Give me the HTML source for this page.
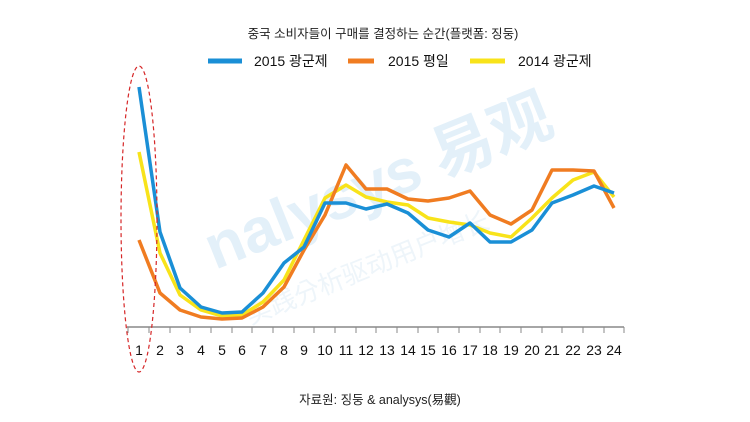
<!DOCTYPE html>
<html><head><meta charset="utf-8"><style>
html,body{margin:0;padding:0;background:#fff;}
svg{display:block;}
text{font-family:"Liberation Sans","Noto Sans CJK KR",sans-serif;}
</style></head><body>
<svg width="750" height="422" viewBox="0 0 750 422">
<text x="383" y="38" font-size="12.5" text-anchor="middle" fill="#222">중국 소비자들이 구매를 결정하는 순간(플랫폼: 징둥)</text>
<line x1="208" y1="61" x2="242" y2="61" stroke="#1a8fd6" stroke-width="5"/>
<text x="254" y="66" font-size="14" fill="#111">2015 광군제</text>
<line x1="348" y1="61" x2="374" y2="61" stroke="#f07c21" stroke-width="5"/>
<text x="388" y="66" font-size="14" fill="#111">2015 평일</text>
<line x1="470" y1="61" x2="505" y2="61" stroke="#f8e31a" stroke-width="5"/>
<text x="518" y="66" font-size="14" fill="#111">2014 광군제</text>
<text x="215" y="270" font-size="62" fill="#e3f0f9" transform="rotate(-22 215 270)" font-weight="bold">nalysys 易观</text>
<text x="250" y="325" font-size="26" fill="#eef5fa" transform="rotate(-22 250 325)">实践分析驱动用户增长</text>
<line x1="127" y1="327" x2="624" y2="327" stroke="#888" stroke-width="1.5"/>
<polyline fill="none" stroke="#f8e31a" stroke-width="3.5" stroke-linejoin="round" points="139,152 160,253 180,295 201,310 222,316 242,315 263,302 284,280 304,240 325,198 346,185 366,197 387,202 408,205 428,218 449,222 470,225 490,233 511,237 532,218 552,198 573,180 594,172 614,197"/>
<polyline fill="none" stroke="#f07c21" stroke-width="3.5" stroke-linejoin="round" points="139,240 160,293 180,310 201,317 222,319 242,318 263,307 284,287 304,250 325,215 346,165 366,189 387,189 408,199 428,201 449,198 470,191 490,215 511,224 532,210 552,170 573,170 594,171 614,208"/>
<polyline fill="none" stroke="#1a8fd6" stroke-width="3.5" stroke-linejoin="round" points="139,87 160,232 180,288 201,307 222,313 242,312 263,293 284,263 304,247 325,203 346,203 366,209 387,204 408,213 428,230 449,237 470,223 490,242 511,242 532,230 552,203 573,195 594,186 614,193"/>
<ellipse cx="139" cy="219" rx="18" ry="153" fill="none" stroke="#d62728" stroke-width="1.2" stroke-dasharray="4,3"/>
<g font-size="14" fill="#111" text-anchor="middle">
<text x="139" y="355">1</text><text x="160" y="355">2</text><text x="180" y="355">3</text><text x="201" y="355">4</text><text x="222" y="355">5</text><text x="242" y="355">6</text><text x="263" y="355">7</text><text x="284" y="355">8</text><text x="304" y="355">9</text><text x="325" y="355">10</text><text x="346" y="355">11</text><text x="366" y="355">12</text><text x="387" y="355">13</text><text x="408" y="355">14</text><text x="428" y="355">15</text><text x="449" y="355">16</text><text x="470" y="355">17</text><text x="490" y="355">18</text><text x="511" y="355">19</text><text x="532" y="355">20</text><text x="552" y="355">21</text><text x="573" y="355">22</text><text x="594" y="355">23</text><text x="614" y="355">24</text>
</g>
<g stroke="#888" stroke-width="1">
<line x1="128" y1="327" x2="128" y2="333"/><line x1="149" y1="327" x2="149" y2="333"/><line x1="170" y1="327" x2="170" y2="333"/><line x1="190" y1="327" x2="190" y2="333"/><line x1="211" y1="327" x2="211" y2="333"/><line x1="232" y1="327" x2="232" y2="333"/><line x1="252" y1="327" x2="252" y2="333"/><line x1="273" y1="327" x2="273" y2="333"/><line x1="294" y1="327" x2="294" y2="333"/><line x1="314" y1="327" x2="314" y2="333"/><line x1="335" y1="327" x2="335" y2="333"/><line x1="356" y1="327" x2="356" y2="333"/><line x1="376" y1="327" x2="376" y2="333"/><line x1="397" y1="327" x2="397" y2="333"/><line x1="418" y1="327" x2="418" y2="333"/><line x1="438" y1="327" x2="438" y2="333"/><line x1="459" y1="327" x2="459" y2="333"/><line x1="480" y1="327" x2="480" y2="333"/><line x1="500" y1="327" x2="500" y2="333"/><line x1="521" y1="327" x2="521" y2="333"/><line x1="542" y1="327" x2="542" y2="333"/><line x1="562" y1="327" x2="562" y2="333"/><line x1="583" y1="327" x2="583" y2="333"/><line x1="604" y1="327" x2="604" y2="333"/><line x1="624" y1="327" x2="624" y2="333"/>
</g>
<text x="380" y="404" font-size="12.5" text-anchor="middle" fill="#222">자료원: 징둥 &amp; analysys(易觀)</text>
</svg>
</body></html>
